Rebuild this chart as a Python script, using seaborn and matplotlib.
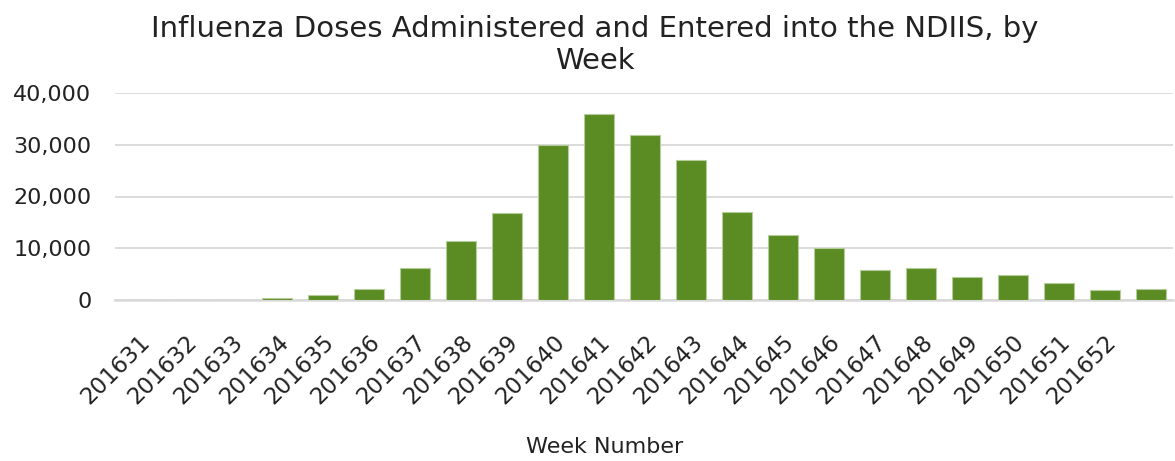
import numpy as np
import pandas as pd
import matplotlib.pyplot as plt
import matplotlib.ticker as mticker
import seaborn as sns

weeks = ["201631", "201632", "201633", "201634", "201635", "201636", "201637",
         "201638", "201639", "201640", "201641", "201642", "201643", "201644",
         "201645", "201646", "201647", "201648", "201649", "201650", "201651",
         "201652", "201701"]
doses = [0, 0, 50, 300, 950, 2050, 6250, 11330, 16870, 30000, 35850, 31800,
         27100, 17070, 12550, 9980, 5730, 6120, 4380, 4770, 3360, 1930, 2200]
# the last week has no label on the original axis
tick_labels = weeks[:-1] + [""]

df = pd.DataFrame({"Week": weeks, "Doses": doses})

sns.set_style("white")
plt.rcParams['font.family'] = ['DejaVu Sans']

fig = plt.figure(figsize=(11.75, 4.61), dpi=100)
ax = fig.add_axes([115 / 1175, 1 - 300 / 461, 1058 / 1175, 207 / 461])

sns.barplot(data=df, x="Week", y="Doses", color="#5B8C23", width=0.67,
            edgecolor="#B5CC9A", linewidth=0.8, saturation=1, ax=ax, zorder=3)

ax.set_ylim(0, 40000)
ax.set_xlim(-0.52, 22.48)
ax.yaxis.set_major_locator(mticker.MultipleLocator(10000))
ax.yaxis.set_major_formatter(mticker.StrMethodFormatter("{x:,.0f}"))
ax.grid(axis="y", color="#D9D9D9", linewidth=1.3, zorder=0)
ax.set_axisbelow(True)
for s in ["top", "right", "left"]:
    ax.spines[s].set_visible(False)
ax.spines["bottom"].set_color("#D9D9D9")
ax.spines["bottom"].set_linewidth(1.8)
ax.tick_params(axis="both", length=0, colors="#222222")
ax.tick_params(axis="y", pad=17, labelsize=16)

ax.set_xticks(range(len(weeks)))
ax.set_xticklabels(tick_labels, rotation=45, ha="right", rotation_mode="anchor")
ax.tick_params(axis="x", pad=22, labelsize=16.5)

ax.set_ylabel("")
ax.set_xlabel("Week Number", fontsize=16, color="#222222", va="center")
ax.xaxis.set_label_coords(0.463, -0.71)

fig.text(0.506, 1 - 45 / 461, "Influenza Doses Administered and Entered into the NDIIS, by\nWeek",
         ha="center", va="center", fontsize=21, color="#222222", linespacing=1.2)

plt.savefig("out.png", dpi=100)
plt.close()
